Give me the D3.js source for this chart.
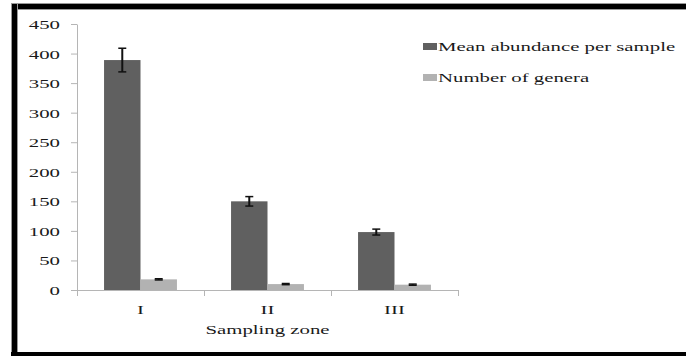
<!DOCTYPE html>
<html><head><meta charset="utf-8">
<script src="https://cdn.jsdelivr.net/npm/d3@7"></script>
<style>html,body{margin:0;padding:0;background:#fff;}svg{display:block;}</style>
</head><body>
<script>
const categories = ["I", "II", "III"];
const seriesNames = ["Mean abundance per sample", "Number of genera"];
const abundance = [389, 150, 98];
const abundanceErr = [20, 8, 5];
const genera = [18, 10, 9];
const generaErr = [1, 1, 1];
const yTicks = [0, 50, 100, 150, 200, 250, 300, 350, 400, 450];
const xTitle = "Sampling zone";

const W = 686, H = 356;
const FONT = "'Liberation Serif','Times New Roman',serif";
const SX = 1.6;
const colors = ["#606060", "#b2b2b2"];
const svg = d3.select("body").append("svg").attr("width", W).attr("height", H);
svg.append("rect").attr("width", W).attr("height", H).attr("fill", "#fff");

// frame
svg.append("rect").attr("x", 11).attr("y", 3).attr("width", W - 11).attr("height", 7).attr("fill", "#999");
svg.append("rect").attr("x", 12).attr("y", 4).attr("width", W - 12).attr("height", 5).attr("fill", "#000");
svg.append("rect").attr("x", 11).attr("y", 3).attr("width", 7).attr("height", H - 3).attr("fill", "#999");
svg.append("rect").attr("x", 12).attr("y", 4).attr("width", 5).attr("height", H - 4).attr("fill", "#000");
svg.append("rect").attr("x", 11).attr("y", 352).attr("width", W - 11).attr("height", 4).attr("fill", "#000");

const x0 = 77, x1 = 458, y0 = 290, y1 = 24;
const x = d3.scaleBand().domain(categories).range([x0, x1]).padding(0);
const bw = x.bandwidth();
const xs = d3.scaleBand().domain(seriesNames).range([bw * 0.213, bw * 0.787]).padding(0);
const y = d3.scaleLinear().domain([0, 450]).range([y0, y1]);

function stretchedText(g, tx, ty, str, anchor, size) {
  const gg = g.append("g").attr("transform", `translate(${tx},${ty}) scale(${SX},1)`);
  gg.append("text").attr("x", 0).attr("y", 0).attr("text-anchor", anchor)
    .attr("font-family", FONT).attr("font-size", size || 13).attr("fill", "#1a1a1a").text(str);
  return gg;
}

// y axis
const yAxis = svg.append("g").attr("transform", `translate(${x0},0)`)
  .call(d3.axisLeft(y).tickValues(yTicks).tickSize(6).tickSizeOuter(0).tickFormat(d3.format("d")));
yAxis.select(".domain").attr("stroke", "#b5b5b5");
yAxis.selectAll(".tick line").attr("stroke", "#b5b5b5");
yAxis.selectAll(".tick text").remove();
yAxis.selectAll(".tick").each(function(d) {
  stretchedText(d3.select(this), -17, 4.5, d3.format("d")(d), "end");
});

// x axis
const xAxisG = svg.append("g");
xAxisG.append("line").attr("x1", x0).attr("x2", x1).attr("y1", y0 + 0.5).attr("y2", y0 + 0.5).attr("stroke", "#b5b5b5");
const bounds = [x(categories[0])].concat(categories.map(c => x(c) + bw));
xAxisG.selectAll(".bt").data(bounds).join("line")
  .attr("x1", d => Math.round(d) + 0.5).attr("x2", d => Math.round(d) + 0.5)
  .attr("y1", y0).attr("y2", y0 + 6).attr("stroke", "#b5b5b5");
categories.forEach(c => stretchedText(xAxisG, x(c) + bw / 2, 314, c, "middle"));
stretchedText(svg, (x0 + x1) / 2, 334, xTitle, "middle");

// bars
const data = categories.map((c, i) => ({
  c,
  vals: [
    { s: seriesNames[0], v: abundance[i], e: abundanceErr[i] },
    { s: seriesNames[1], v: genera[i], e: generaErr[i] }
  ]
}));
const groups = svg.selectAll(".grp").data(data).join("g").attr("transform", d => `translate(${x(d.c)},0)`);
groups.selectAll("rect").data(d => d.vals).join("rect")
  .attr("x", d => xs(d.s)).attr("width", xs.bandwidth())
  .attr("y", d => y(d.v)).attr("height", d => y(0) - y(d.v))
  .attr("fill", (d, i) => colors[i]);
// error bars
const eb = groups.selectAll(".eb").data(d => d.vals).join("g");
eb.append("line")
  .attr("x1", d => xs(d.s) + xs.bandwidth() / 2).attr("x2", d => xs(d.s) + xs.bandwidth() / 2)
  .attr("y1", d => y(d.v + d.e)).attr("y2", d => y(d.v - d.e))
  .attr("stroke", "#111").attr("stroke-width", 2);
eb.selectAll(".cap").data(d => [d.v + d.e, d.v - d.e].map(v => ({ v, s: d.s }))).join("line")
  .attr("x1", d => xs(d.s) + xs.bandwidth() / 2 - 4).attr("x2", d => xs(d.s) + xs.bandwidth() / 2 + 4)
  .attr("y1", d => y(d.v)).attr("y2", d => y(d.v))
  .attr("stroke", "#111").attr("stroke-width", 1.5);

// legend
const lg = svg.append("g");
const legendY = [50, 81];
seriesNames.forEach((s, i) => {
  lg.append("rect").attr("x", 423).attr("y", legendY[i] - 7).attr("width", 14).attr("height", 7).attr("fill", colors[i]);
  stretchedText(lg, 438, legendY[i] + 0.5, s, "start");
});
</script>
</body></html>
